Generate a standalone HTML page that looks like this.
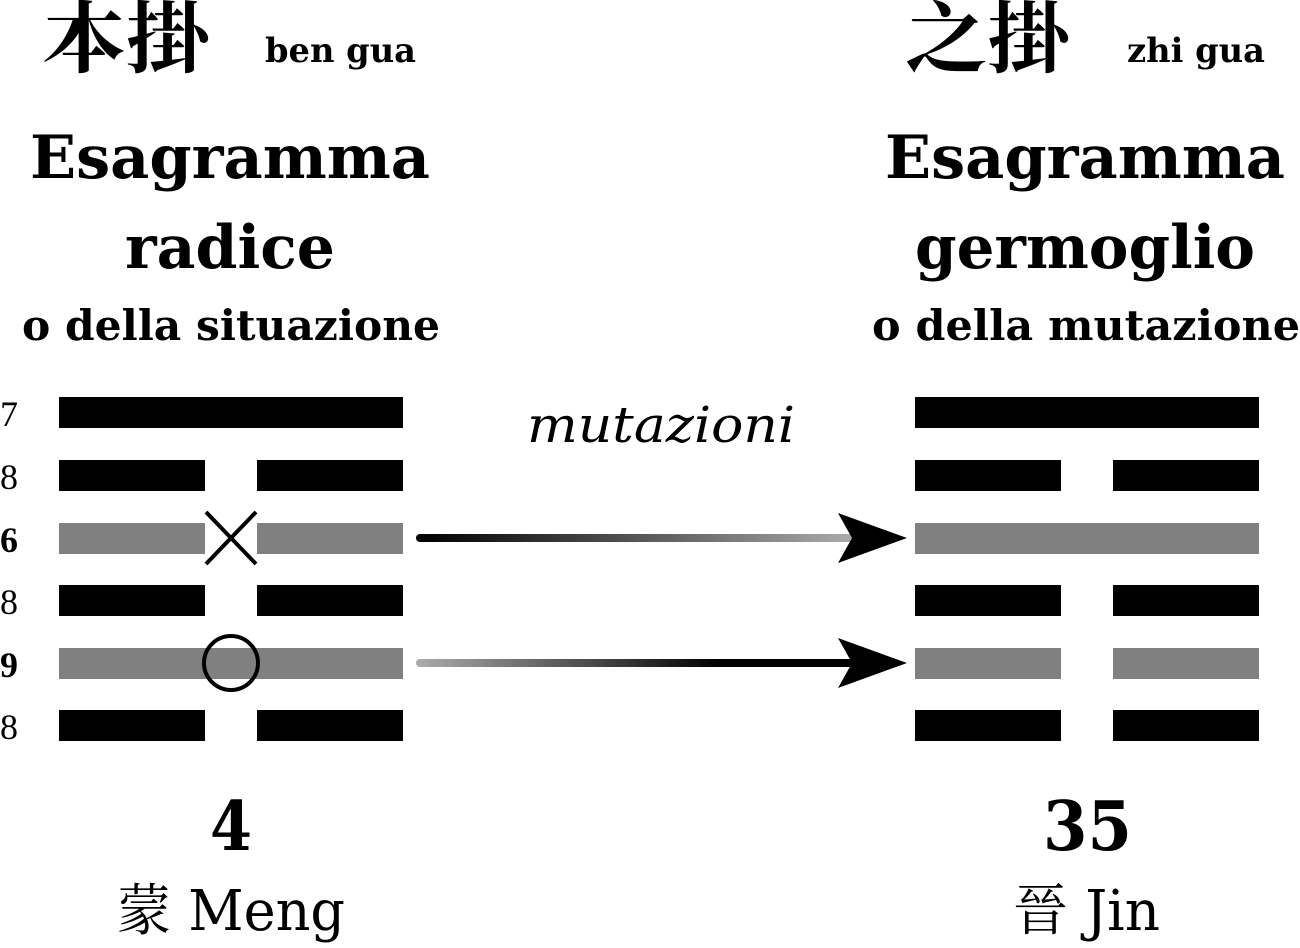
<!DOCTYPE html>
<html><head><meta charset="utf-8"><style>html,body{margin:0;padding:0;background:#fff}</style></head>
<body>
<svg width="1300" height="943" viewBox="0 0 1300 943" xmlns="http://www.w3.org/2000/svg" font-family="'DejaVu Serif','Noto Serif CJK SC',serif">
<defs>
<linearGradient id="g1" x1="420" y1="0" x2="850" y2="0" gradientUnits="userSpaceOnUse"><stop offset="0" stop-color="#000"/><stop offset="1" stop-color="#aaa"/></linearGradient>
<linearGradient id="g2" x1="420" y1="0" x2="850" y2="0" gradientUnits="userSpaceOnUse"><stop offset="0" stop-color="#aaa"/><stop offset="0.7" stop-color="#000"/><stop offset="1" stop-color="#000"/></linearGradient>
</defs>
<text x="42" y="66" font-size="78" font-family="'Noto Serif CJK SC',serif" font-weight="bold" textLength="168" lengthAdjust="spacingAndGlyphs">本掛</text>
<text x="265" y="62" font-size="34" font-weight="bold" textLength="151" lengthAdjust="spacingAndGlyphs">ben gua</text>
<text x="905" y="66" font-size="78" font-family="'Noto Serif CJK SC',serif" font-weight="bold" textLength="165" lengthAdjust="spacingAndGlyphs">之掛</text>
<text x="1127" y="62" font-size="34" font-weight="bold" textLength="138" lengthAdjust="spacingAndGlyphs">zhi gua</text>
<g font-weight="bold">
<text x="30" y="178" font-size="60" textLength="400" lengthAdjust="spacingAndGlyphs">Esagramma</text>
<text x="125" y="268" font-size="60" textLength="210" lengthAdjust="spacingAndGlyphs">radice</text>
<text x="22" y="340" font-size="42" textLength="418" lengthAdjust="spacingAndGlyphs">o della situazione</text>
<text x="885" y="178" font-size="60" textLength="400" lengthAdjust="spacingAndGlyphs">Esagramma</text>
<text x="915" y="268" font-size="60" textLength="340" lengthAdjust="spacingAndGlyphs">germoglio</text>
<text x="872" y="340" font-size="42" textLength="428" lengthAdjust="spacingAndGlyphs">o della mutazione</text>
</g>
<g font-size="36" font-family="'Liberation Serif',serif">
<text x="0" y="426">7</text><text x="0" y="489">8</text><text x="0" y="552" font-weight="bold">6</text>
<text x="0" y="614">8</text><text x="0" y="677" font-weight="bold">9</text><text x="0" y="739">8</text>
</g>
<g fill="#000">
<rect x="59" y="397" width="344" height="31"/>
<rect x="59" y="460" width="146" height="31"/><rect x="257" y="460" width="146" height="31"/>
<rect x="59" y="585" width="146" height="31"/><rect x="257" y="585" width="146" height="31"/>
<rect x="59" y="710" width="146" height="31"/><rect x="257" y="710" width="146" height="31"/>
<rect x="915" y="397" width="344" height="31"/>
<rect x="915" y="460" width="146" height="31"/><rect x="1113" y="460" width="146" height="31"/>
<rect x="915" y="585" width="146" height="31"/><rect x="1113" y="585" width="146" height="31"/>
<rect x="915" y="710" width="146" height="31"/><rect x="1113" y="710" width="146" height="31"/>
</g>
<g fill="#808080">
<rect x="59" y="523" width="146" height="31"/><rect x="257" y="523" width="146" height="31"/>
<rect x="59" y="648" width="344" height="31"/>
<rect x="915" y="523" width="344" height="31"/>
<rect x="915" y="648" width="146" height="31"/><rect x="1113" y="648" width="146" height="31"/>
</g>
<path d="M206 512 L256 564 M256 512 L206 564" stroke="#000" stroke-width="4"/>
<circle cx="231" cy="663" r="27" fill="none" stroke="#000" stroke-width="4"/>
<text x="527" y="442" font-size="50" font-style="italic" textLength="268" lengthAdjust="spacingAndGlyphs">mutazioni</text>
<line x1="420" y1="538" x2="860" y2="538" stroke="url(#g1)" stroke-width="8" stroke-linecap="round"/>
<path d="M907 538 L838 513 L852 538 L838 563 Z" fill="#000"/>
<line x1="420" y1="663" x2="860" y2="663" stroke="url(#g2)" stroke-width="8" stroke-linecap="round"/>
<path d="M907 663 L838 638 L852 663 L838 688 Z" fill="#000"/>
<text x="210" y="850" font-size="68" font-weight="bold" textLength="42" lengthAdjust="spacingAndGlyphs">4</text>
<text x="117" y="930" font-size="56" textLength="228" lengthAdjust="spacingAndGlyphs">蒙 Meng</text>
<text x="1043" y="850" font-size="68" font-weight="bold" textLength="89" lengthAdjust="spacingAndGlyphs">35</text>
<text x="1013" y="930" font-size="56" textLength="147" lengthAdjust="spacingAndGlyphs">晉 Jin</text>
</svg>
</body></html>
